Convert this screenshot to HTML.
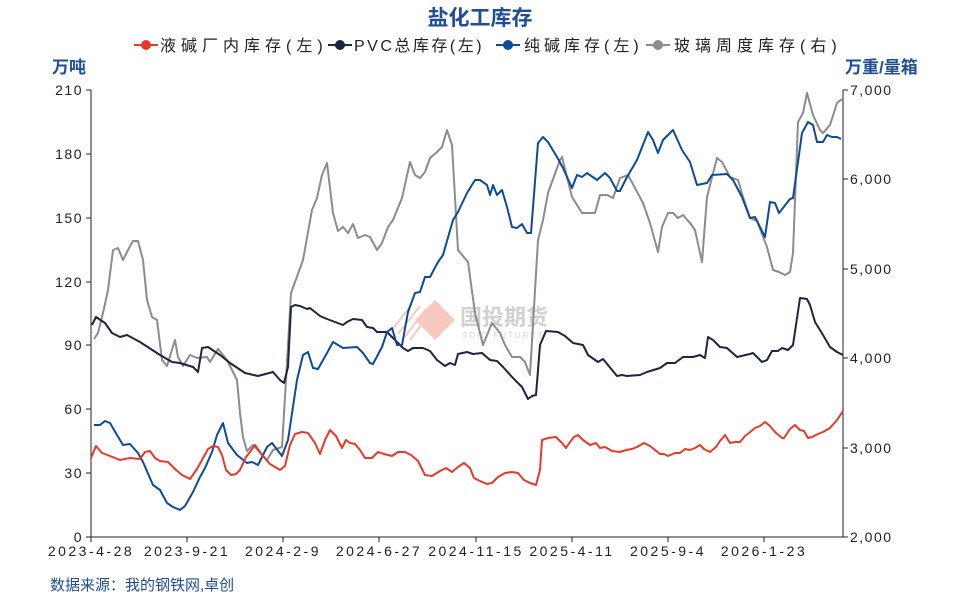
<!DOCTYPE html>
<html><head><meta charset="utf-8"><style>
body{margin:0;background:#fff;}
svg{display:block;font-family:"Liberation Sans","Noto Sans CJK SC",sans-serif;}
</style></head><body>
<svg width="960" height="600" viewBox="0 0 960 600" xmlns="http://www.w3.org/2000/svg">
<rect width="960" height="600" fill="#fff"/>
<text x="480" y="25" text-anchor="middle" font-size="21" font-weight="bold" fill="#1f4e96">盐化工库存</text>
<g font-size="16" fill="#222">
<line x1="134" y1="45" x2="158" y2="45" stroke="#e8392a" stroke-width="2"/><circle cx="146" cy="45" r="5" fill="#e8392a"/>
<text x="160" y="51" letter-spacing="5">液碱厂内库存(左)</text>
<line x1="328" y1="45" x2="352" y2="45" stroke="#1c2541" stroke-width="2"/><circle cx="340" cy="45" r="5" fill="#1c2541"/>
<text x="354" y="51" letter-spacing="2.5">PVC总库存(左)</text>
<line x1="496" y1="45" x2="520" y2="45" stroke="#0d4a9c" stroke-width="2"/><circle cx="508" cy="45" r="5" fill="#0d4a9c"/>
<text x="524" y="51" letter-spacing="4">纯碱库存(左)</text>
<line x1="646" y1="45" x2="670" y2="45" stroke="#8c8c8c" stroke-width="2"/><circle cx="658" cy="45" r="5" fill="#8c8c8c"/>
<text x="674" y="51" letter-spacing="5">玻璃周度库存(右)</text>
</g>
<text x="52" y="73" font-size="17" font-weight="bold" fill="#1f4e96">万吨</text>
<text x="845" y="73" font-size="17" font-weight="bold" fill="#1f4e96">万重/量箱</text>
<g opacity="0.45">
<polygon points="435,300 455,320 435,340 415,320" fill="#f08a70"/>
<g stroke="#f08a70" stroke-width="2"><line x1="392" y1="330" x2="412" y2="304"/><line x1="398" y1="334" x2="420" y2="306"/><line x1="404" y1="338" x2="426" y2="309"/><line x1="410" y1="340" x2="428" y2="316"/></g>
<text x="460" y="325" font-size="22" font-weight="bold" fill="#9a9a9a">国投期货</text>
<text x="462" y="338" font-size="8" fill="#aaa" letter-spacing="2">SDIC FUTURES</text>
</g>
<g stroke="#222" stroke-width="1">
<line x1="91" y1="90" x2="91" y2="537"/>
<line x1="843" y1="90" x2="843" y2="537"/>
<line x1="91" y1="537" x2="843" y2="537"/>
<line x1="86" y1="90" x2="91" y2="90"/><line x1="86" y1="154" x2="91" y2="154"/><line x1="86" y1="218" x2="91" y2="218"/><line x1="86" y1="282" x2="91" y2="282"/><line x1="86" y1="345" x2="91" y2="345"/><line x1="86" y1="409" x2="91" y2="409"/><line x1="86" y1="473" x2="91" y2="473"/><line x1="86" y1="537" x2="91" y2="537"/>
<line x1="843" y1="90" x2="848" y2="90"/><line x1="843" y1="179" x2="848" y2="179"/><line x1="843" y1="269" x2="848" y2="269"/><line x1="843" y1="358" x2="848" y2="358"/><line x1="843" y1="448" x2="848" y2="448"/><line x1="843" y1="537" x2="848" y2="537"/>
<line x1="91" y1="537" x2="91" y2="542"/><line x1="187" y1="537" x2="187" y2="542"/><line x1="283" y1="537" x2="283" y2="542"/><line x1="379" y1="537" x2="379" y2="542"/><line x1="476" y1="537" x2="476" y2="542"/><line x1="572" y1="537" x2="572" y2="542"/><line x1="668" y1="537" x2="668" y2="542"/><line x1="764" y1="537" x2="764" y2="542"/>
</g>
<g font-size="14" fill="#222" text-anchor="end" letter-spacing="1.5">
<text x="83" y="95">210</text><text x="83" y="159">180</text><text x="83" y="223">150</text><text x="83" y="287">120</text><text x="83" y="350">90</text><text x="83" y="414">60</text><text x="83" y="478">30</text><text x="83" y="542">0</text>
</g>
<g font-size="14" fill="#222" letter-spacing="1.5">
<text x="850" y="95">7,000</text><text x="850" y="184">6,000</text><text x="850" y="274">5,000</text><text x="850" y="363">4,000</text><text x="850" y="453">3,000</text><text x="850" y="542">2,000</text>
</g>
<g font-size="14" fill="#222" text-anchor="middle" letter-spacing="2.5">
<text x="91" y="556">2023-4-28</text><text x="187" y="556">2023-9-21</text><text x="283" y="556">2024-2-9</text><text x="379" y="556">2024-6-27</text><text x="476" y="556">2024-11-15</text><text x="572" y="556">2025-4-11</text><text x="668" y="556">2025-9-4</text><text x="764" y="556">2026-1-23</text>
</g>
<text x="50" y="590" font-size="15" fill="#1f4e96">数据来源：我的钢铁网,卓创</text>
<g fill="none" stroke-width="2" stroke-linejoin="round">
<polyline stroke="#8c8c8c" points="94,339 98,333 103,313 108,290 113,250 118,248 123,260 128,250 133,241 138,241 143,260 147,300 152,317 157,320 162,360 167,366 175,340 178,357 183,366 190,355 197,358 207,357 210,362 218,349 227,360 237,380 240,413 243,437 247,451 253,445 267,460 273,450 282,447 285,397 291,293 303,260 312,210 317,198 322,175 327,163 333,213 338,231 343,227 348,233 353,224 358,238 365,235 370,237 377,250 382,243 388,227 393,220 402,198 410,162 415,175 420,178 425,172 430,158 437,152 442,147 447,130 452,145 458,250 468,262 475,313 483,345 492,323 500,333 505,345 512,357 520,357 525,362 530,375 538,240 543,220 548,193 560,160 562,157 572,197 582,213 595,213 600,195 607,195 613,198 620,178 628,175 635,188 643,203 650,223 658,252 662,227 668,213 673,213 678,218 683,215 690,223 695,230 702,262 707,197 717,158 722,162 730,177 738,180 743,197 750,218 757,221 767,247 773,270 779,272 785,275 790,272 793,253 798,122 803,113 807,93 813,115 820,130 823,133 830,125 837,103 842,99"/>
<polyline stroke="#1c2541" points="92,325 96,317 105,323 112,333 120,337 127,335 140,342 160,355 172,362 180,363 193,367 198,372 202,348 208,347 220,355 230,363 245,373 258,376 273,372 280,380 284,383 288,367 291,307 295,305 300,306 307,309 310,308 320,316 327,319 343,325 347,322 353,319 362,320 367,327 373,328 377,332 387,332 403,348 408,351 413,348 423,348 430,351 437,360 445,366 450,363 455,365 458,354 467,352 473,354 482,353 490,360 497,361 503,367 513,378 522,387 528,399 532,396 536,395 540,345 546,331 558,332 565,336 573,343 583,345 588,355 598,362 603,359 617,376 622,375 627,376 640,375 647,372 660,368 667,363 675,363 683,357 693,357 700,355 705,358 708,337 713,340 720,347 727,348 737,357 750,354 753,353 762,362 767,360 772,351 778,351 782,348 788,350 793,345 800,298 807,299 810,305 815,322 823,335 830,347 837,352 843,355"/>
<polyline stroke="#0d4a9c" points="94,425 100,425 105,421 110,423 117,435 123,445 130,444 138,453 143,462 153,485 160,490 167,503 173,507 180,510 185,506 193,492 200,477 205,468 212,452 217,435 223,423 228,443 237,455 247,463 252,462 258,465 267,447 272,443 282,456 288,440 297,380 303,355 308,352 313,368 318,369 327,353 333,342 343,348 357,347 363,353 370,363 373,364 382,347 387,332 392,328 397,345 402,345 408,312 415,293 420,292 425,277 430,277 438,262 443,255 453,220 458,212 467,193 475,180 480,180 487,185 490,195 493,185 497,195 502,190 507,207 512,227 517,228 522,224 527,233 531,233 538,143 543,137 548,142 557,157 563,168 572,188 577,175 582,177 587,173 597,180 605,173 610,178 617,191 620,191 627,177 637,160 648,132 653,140 658,153 663,140 673,130 682,150 690,162 697,185 707,183 712,175 727,174 733,180 742,197 750,218 755,217 765,237 770,202 775,203 779,213 790,199 793,198 802,133 808,122 813,125 817,142 823,142 827,135 832,137 837,137 841,139"/>
<polyline stroke="#e8392a" points="91,458 96,446 102,453 110,456 120,460 130,458 140,459 145,452 150,451 155,458 160,461 168,462 175,469 182,475 190,479 197,469 202,460 208,449 213,446 218,447 222,455 226,470 231,475 236,474 240,470 246,457 250,452 255,445 262,455 270,464 280,470 285,466 290,445 295,434 302,432 308,433 315,443 320,454 325,440 330,430 336,436 342,448 346,440 350,443 355,444 360,450 365,458 372,458 378,452 384,454 392,456 398,452 405,452 411,455 418,461 425,475 432,476 440,471 446,468 452,472 458,467 464,463 470,468 474,478 480,481 487,484 492,483 498,477 505,473 512,472 518,473 524,480 530,483 536,485 540,470 542,440 548,438 556,437 562,443 566,448 570,442 574,437 578,435 583,440 590,445 596,443 600,448 605,447 612,451 620,452 626,450 632,449 637,447 644,443 650,446 655,450 660,454 664,454 668,456 675,453 680,453 685,449 690,450 695,448 700,445 704,449 710,452 716,447 720,441 725,435 730,443 735,442 740,442 745,436 749,433 755,428 760,426 765,422 770,426 775,432 782,438 784,438 790,429 795,425 800,430 804,431 808,438 812,437 818,434 823,432 830,428 837,420 843,411"/>
</g>
</svg>
</body></html>
